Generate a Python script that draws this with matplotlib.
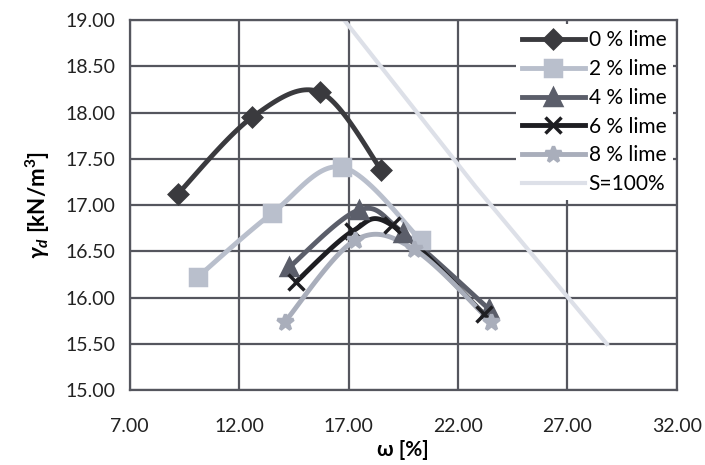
import numpy as np
import matplotlib
matplotlib.use("Agg")
import matplotlib.pyplot as plt

plt.rcParams['font.family'] = ['Lato', 'DejaVu Sans']
plt.rcParams['mathtext.fontset'] = 'custom'
plt.rcParams['mathtext.rm'] = 'Lato:bold'
plt.rcParams['mathtext.it'] = 'Lato:bold:italic'
plt.rcParams['mathtext.bf'] = 'Lato:bold'

# moisture content [%] and dry unit weight [kN/m3]
w_0 = [9.2, 12.6, 15.7, 18.5]
g_0 = [17.12, 17.95, 18.22, 17.38]
w_2 = [10.1, 13.5, 16.7, 20.3]
g_2 = [16.22, 16.91, 17.41, 16.62]
w_4 = [14.3, 17.5, 19.5, 23.4]
g_4 = [16.33, 16.95, 16.70, 15.88]
w_6 = [14.6, 17.2, 19.0, 23.2]
g_6 = [16.17, 16.72, 16.78, 15.82]
w_8 = [14.1, 17.3, 20.0, 23.5]
g_8 = [15.74, 16.62, 16.52, 15.74]
w_sat = [16.8, 22.8, 28.8]
g_sat = [19.0, 17.2, 15.5]

labels = ['0 % lime', '2 % lime', '4 % lime', '6 % lime', '8 % lime', 'S=100%']


def smooth(x, y, n=30):
    # Catmull-Rom like smoothing, as in Excel "smoothed line"
    x = np.asarray(x, float)
    y = np.asarray(y, float)
    p = np.column_stack([x, y])
    p = np.vstack([p[0], p, p[-1]])
    out = []
    t = np.linspace(0, 1, n)[:, None]
    for i in range(1, len(p) - 2):
        p0, p1, p2, p3 = p[i - 1], p[i], p[i + 1], p[i + 2]
        c = 0.5 * ((2 * p1) + (-p0 + p2) * t + (2 * p0 - 5 * p1 + 4 * p2 - p3) * t ** 2
                   + (-p0 + 3 * p1 - 3 * p2 + p3) * t ** 3)
        out.append(c)
    c = np.vstack(out)
    return c[:, 0], c[:, 1]


fig = plt.figure(figsize=(7.05, 4.65), dpi=100)
ax = fig.add_axes([0.184, 0.161, 0.776, 0.796])

series = [
    (w_0, g_0, '#3a3a3e', 'D', 9, '#3a3a3e'),
    (w_2, g_2, '#b9bfcc', 's', 11, '#b9bfcc'),
    (w_4, g_4, '#5b5e6a', '^', 11, '#5b5e6a'),
    (w_6, g_6, '#1e1e22', 'x', 11, '#1e1e22'),
    (w_8, g_8, '#a9aebb', '*', 12, '#a9aebb'),
]

handles = []
for (x, y, col, mk, ms, mc), lab in zip(series, labels):
    sx, sy = smooth(x, y)
    ax.plot(sx, sy, color=col, lw=3.5, solid_capstyle='round', zorder=3)
    ax.plot(x, y, ls='none', marker=mk, ms=ms, color=mc, mew=2.5, zorder=4)
    h, = ax.plot([], [], color=col, lw=3.5, marker=mk, ms=ms, mew=2.5)
    handles.append(h)

h, = ax.plot(w_sat, g_sat, color='#dde0e8', lw=3, zorder=2)
handles.append(h)

ax.set_xlim(7, 32)
ax.set_ylim(15, 19)
ax.set_xticks(np.arange(7, 33, 5))
ax.set_yticks(np.arange(15, 19.01, 0.5))
ax.set_xticklabels([f'{v:.2f}' for v in np.arange(7, 33, 5)])
ax.set_yticklabels([f'{v:.2f}' for v in np.arange(15, 19.01, 0.5)])
ax.tick_params(length=0, labelsize=14, colors='#222222', pad=10)
ax.tick_params(axis='x', pad=20)
ax.grid(True, color='#55565e', lw=1.6, zorder=1)
ax.set_axisbelow(True)
for s in ax.spines.values():
    s.set_color('#55565e')
    s.set_linewidth(1.6)

ax.set_xlabel('ω [%]', fontsize=15, fontweight='bold', labelpad=4)
ax.set_ylabel(r'$\gamma_d$ [kN/m$^3$]', fontsize=16, fontweight='bold', labelpad=10)

leg = ax.legend(handles, labels, loc='upper right', fontsize=15, frameon=True,
                framealpha=1, edgecolor='none', fancybox=False, borderaxespad=0.2,
                handlelength=3.0, labelspacing=0.42, handletextpad=0.2,
                borderpad=0.3)
leg.set_zorder(5)

fig.savefig('out.png', dpi=100)
